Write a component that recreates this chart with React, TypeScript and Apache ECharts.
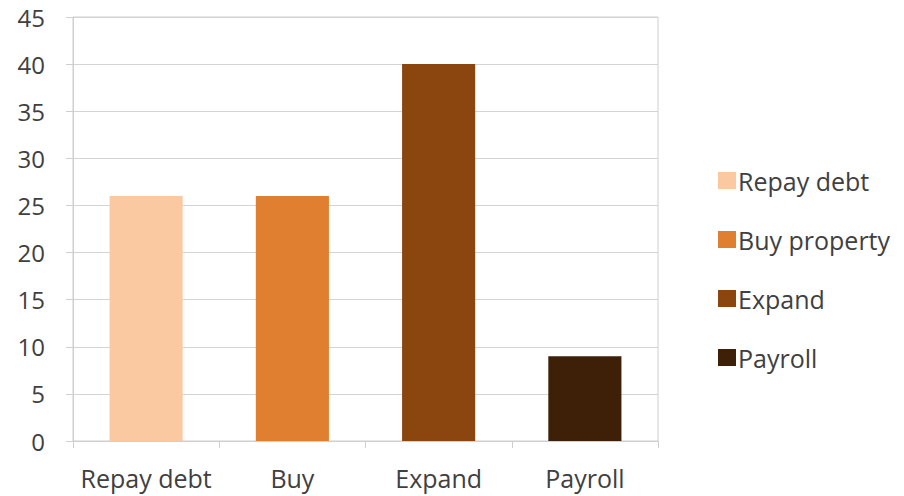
import React, { useEffect, useRef } from "react";
import * as echarts from "echarts";

const categories = ["Repay debt", "Buy", "Expand", "Payroll"];
const legendNames = ["Repay debt", "Buy property", "Expand", "Payroll"];
const values = [26, 26, 40, 9];
const colors = ["#fbc9a1", "#e07f2f", "#8b4610", "#3e2008"];
const yTicks = { min: 0, max: 45, interval: 5 };

export default function App() {
  const ref = useRef<HTMLDivElement>(null);
  useEffect(() => {
    if (!ref.current) return;
    const chart = echarts.init(ref.current, undefined, { renderer: "svg" });
    const font = "'Open Sans', 'Noto Sans', sans-serif";
    const series = legendNames.map((name, i) => ({
      name,
      type: "bar" as const,
      stack: "all",
      barWidth: "50%",
      itemStyle: { color: colors[i] },
      data: categories.map((_, j) => (j === i ? values[j] : null)),
    }));
    chart.setOption({
      animation: false,
      backgroundColor: "#ffffff",
      grid: {
        left: 73,
        right: 246,
        top: 17,
        bottom: 55,
        show: true,
        borderColor: "#cfcfcf",
        borderWidth: 1,
      },
      legend: {
        orient: "vertical",
        left: 713,
        top: 163,
        itemWidth: 18,
        itemHeight: 17,
        itemGap: 34,
        icon: "rect",
        textStyle: { fontFamily: font, fontSize: 25, color: "#404040", padding: [0, 0, 0, -3] },
        data: legendNames,
      },
      xAxis: {
        type: "category",
        data: categories,
        axisLine: { lineStyle: { color: "#cfcfcf" } },
        axisTick: { show: true, length: 7, lineStyle: { color: "#cfcfcf" } },
        axisLabel: { fontFamily: font, fontSize: 25, color: "#404040", margin: 24, interval: 0 },
      },
      yAxis: {
        type: "value",
        min: yTicks.min,
        max: yTicks.max,
        interval: yTicks.interval,
        axisLine: { show: true, lineStyle: { color: "#cfcfcf" } },
        axisTick: { show: true, length: 7, lineStyle: { color: "#cfcfcf" } },
        splitLine: { lineStyle: { color: "#d4d4d4" } },
        axisLabel: {
          fontFamily: font,
          fontSize: 24,
          color: "#404040",
          margin: 28,
          padding: [8, 0, 0, 0],
        },
      },
      series,
    });
    return () => chart.dispose();
  }, []);
  return (
    <div
      ref={ref}
      style={{ position: "absolute", left: 0, top: 0, width: 904, height: 496 }}
    />
  );
}
